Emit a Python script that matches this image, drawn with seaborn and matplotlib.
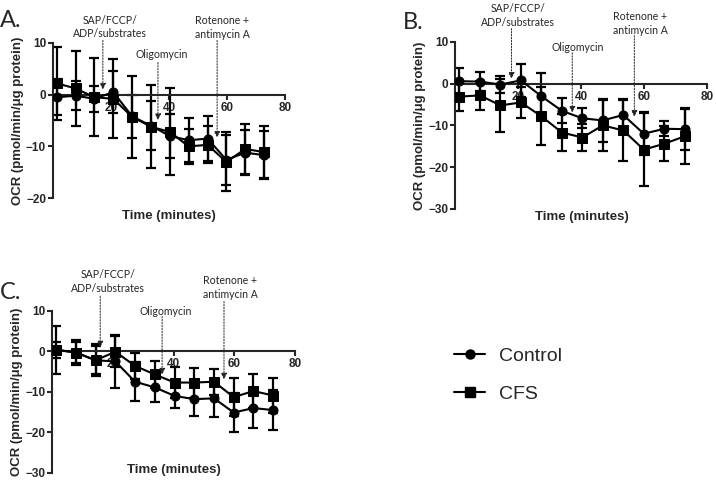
import matplotlib
matplotlib.use("Agg")
import matplotlib.pyplot as plt
from matplotlib.lines import Line2D
import pandas as pd
import seaborn as sns

# measurement times (minutes)
times = [1.3, 7.8, 14.3, 20.8, 27.3, 33.8, 40.3, 46.8, 53.3, 59.8, 66.3, 72.8]

# panel A
a_ctrl = [-0.5, -0.2, -0.8, 0.5, -4.2, -6.0, -8.0, -8.8, -8.5, -12.6, -11.2, -11.7]
a_ctrl_sd = [3.5, 2.8, 2.5, 4.0, 4.2, 4.7, 4.2, 4.3, 4.4, 4.8, 4.4, 4.6]
a_cfs = [2.2, 1.2, -0.5, -0.8, -4.3, -6.2, -7.2, -10.0, -9.7, -13.0, -10.5, -11.1]
a_cfs_sd = [7.1, 7.2, 7.5, 7.6, 7.9, 8.0, 8.4, 3.4, 3.6, 5.7, 4.8, 5.0]

# panel B
b_ctrl = [0.6, 0.5, -0.2, 0.8, -3.0, -6.5, -8.3, -8.8, -7.5, -12.0, -10.8, -10.9]
b_ctrl_sd = [3.2, 2.3, 2.0, 4.0, 5.6, 3.0, 2.4, 5.2, 3.8, 5.2, 1.8, 5.0]
b_cfs = [-3.1, -2.8, -5.2, -4.5, -7.8, -11.7, -12.9, -10.0, -11.2, -15.8, -14.4, -12.6]
b_cfs_sd = [3.5, 3.4, 6.3, 3.7, 7.0, 4.5, 3.2, 6.1, 7.3, 8.8, 4.2, 6.6]

# panel C
c_ctrl = [0.4, -0.3, -2.2, -2.5, -7.5, -8.9, -11.0, -11.8, -11.6, -15.1, -14.0, -14.5]
c_ctrl_sd = [5.9, 3.0, 4.0, 6.5, 4.8, 3.5, 3.0, 4.2, 4.5, 4.9, 5.0, 5.0]
c_cfs = [0.4, -0.3, -2.2, -0.1, -3.6, -5.7, -7.7, -7.7, -7.5, -11.3, -9.8, -10.9]
c_cfs_sd = [2.0, 2.5, 3.5, 3.8, 3.3, 3.4, 3.8, 3.7, 3.2, 4.7, 4.1, 4.3]

sns.set_style("ticks")
plt.rcParams["font.family"] = ["Liberation Sans", "DejaVu Sans"]

fig = plt.figure(figsize=(7.16, 4.88), dpi=100)

panels = [
    # label, label pos, rect, ylim, yticks, data, xlabel y, ylabel x, annotations
    ("A.", (0.0, 0.958), [0.074, 0.594, 0.324, 0.318], (-20, 10), [-20, -10, 0, 10],
     (a_ctrl, a_ctrl_sd, a_cfs, a_cfs_sd), -0.077, -0.125,
     [(17.2, 1.0, 10.5, 19.7, 13.1, "SAP/FCCP/\nADP/substrates"),
      (36.2, -4.9, 6.2, 37.6, 7.8, "Oligomycin"),
      (56.6, -8.3, 10.5, 58.3, 13.0, "Rotenone +\nantimycin A")]),
    ("B.", (0.563, 0.954), [0.636, 0.572, 0.352, 0.342], (-30, 10), [-30, -20, -10, 0, 10],
     (b_ctrl, b_ctrl_sd, b_cfs, b_cfs_sd), -0.012, -0.115,
     [(17.8, 1.2, 13.2, 20.0, 16.4, "SAP/FCCP/\nADP/substrates"),
      (37.1, -6.9, 7.4, 38.7, 8.6, "Oligomycin"),
      (56.8, -7.9, 11.5, 58.7, 14.4, "Rotenone +\nantimycin A")]),
    ("C.", (0.0, 0.401), [0.073, 0.031, 0.339, 0.332], (-30, 10), [-30, -20, -10, 0, 10],
     (c_ctrl, c_ctrl_sd, c_cfs, c_cfs_sd), 0.056, -0.12,
     [(15.8, 1.0, 13.6, 18.4, 17.2, "SAP/FCCP/\nADP/substrates"),
      (36.2, -5.7, 8.6, 37.5, 9.9, "Oligomycin"),
      (56.6, -6.9, 12.3, 58.6, 15.7, "Rotenone +\nantimycin A")]),
]

for label, lpos, rect, ylim, yticks, vals, xl_y, yl_x, notes in panels:
    ctrl, ctrl_sd, cfs, cfs_sd = vals
    ax = fig.add_axes(rect)
    df = pd.DataFrame({
        "time": times + times,
        "ocr": ctrl + cfs,
        "group": ["Control"] * len(times) + ["CFS"] * len(times),
    })
    for m, sd in ((ctrl, ctrl_sd), (cfs, cfs_sd)):
        ax.errorbar(times, m, yerr=sd, fmt="none", ecolor="black",
                    elinewidth=1.6, capsize=3.5, capthick=1.6, zorder=2)
    sns.lineplot(data=df, x="time", y="ocr", style="group",
                 markers={"Control": "o", "CFS": "s"}, dashes=False,
                 color="black", linewidth=1.5, markersize=6.5,
                 markeredgecolor="black", errorbar=None, legend=False,
                 ax=ax, zorder=3)
    ax.set_xlim(0, 80)
    ax.set_ylim(*ylim)
    ax.set_xticks([20, 40, 60, 80])
    ax.set_yticks(yticks)
    ax.spines["bottom"].set_position(("data", 0))
    ax.spines["top"].set_visible(False)
    ax.spines["right"].set_visible(False)
    for s in ("left", "bottom"):
        ax.spines[s].set_linewidth(1.5)
    ax.tick_params(width=1.5, length=3.5, labelsize=8.5, pad=1.5)
    for t in ax.get_xticklabels() + ax.get_yticklabels():
        t.set_fontweight("bold")
    ax.set_xlabel("Time (minutes)", fontsize=9.5, fontweight="bold")
    ax.set_ylabel("OCR (pmol/min/\u03bcg protein)", fontsize=9.5, fontweight="bold")
    ax.xaxis.set_label_coords(0.5, xl_y)
    ax.yaxis.set_label_coords(yl_x, 0.5)
    fig.text(lpos[0], lpos[1], label, fontsize=17, family="Lato",
             ha="left", va="center")
    for ax_x, tip_y, top_y, tx, ty, txt in notes:
        ax.annotate("", xy=(ax_x, tip_y), xytext=(ax_x, top_y),
                    arrowprops=dict(arrowstyle="-|>", linestyle=(0, (1.5, 1.5)),
                                    lw=0.7, color="#222222", mutation_scale=9,
                                    shrinkA=0, shrinkB=0),
                    annotation_clip=False)
        ax.text(tx, ty, txt, fontsize=7.6, family="Lato", ha="center",
                va="center", linespacing=1.3, clip_on=False)

handles = [
    Line2D([], [], color="black", marker="o", markersize=6.5, lw=1.5),
    Line2D([], [], color="black", marker="s", markersize=6.5, lw=1.5),
]
fig.legend(handles, ["Control", "CFS"], loc="center left",
           bbox_to_anchor=(0.61, 0.232), frameon=False, fontsize=14,
           handlelength=1.6, handletextpad=0.7, labelspacing=1.05)

fig.savefig("out.png", dpi=100)
